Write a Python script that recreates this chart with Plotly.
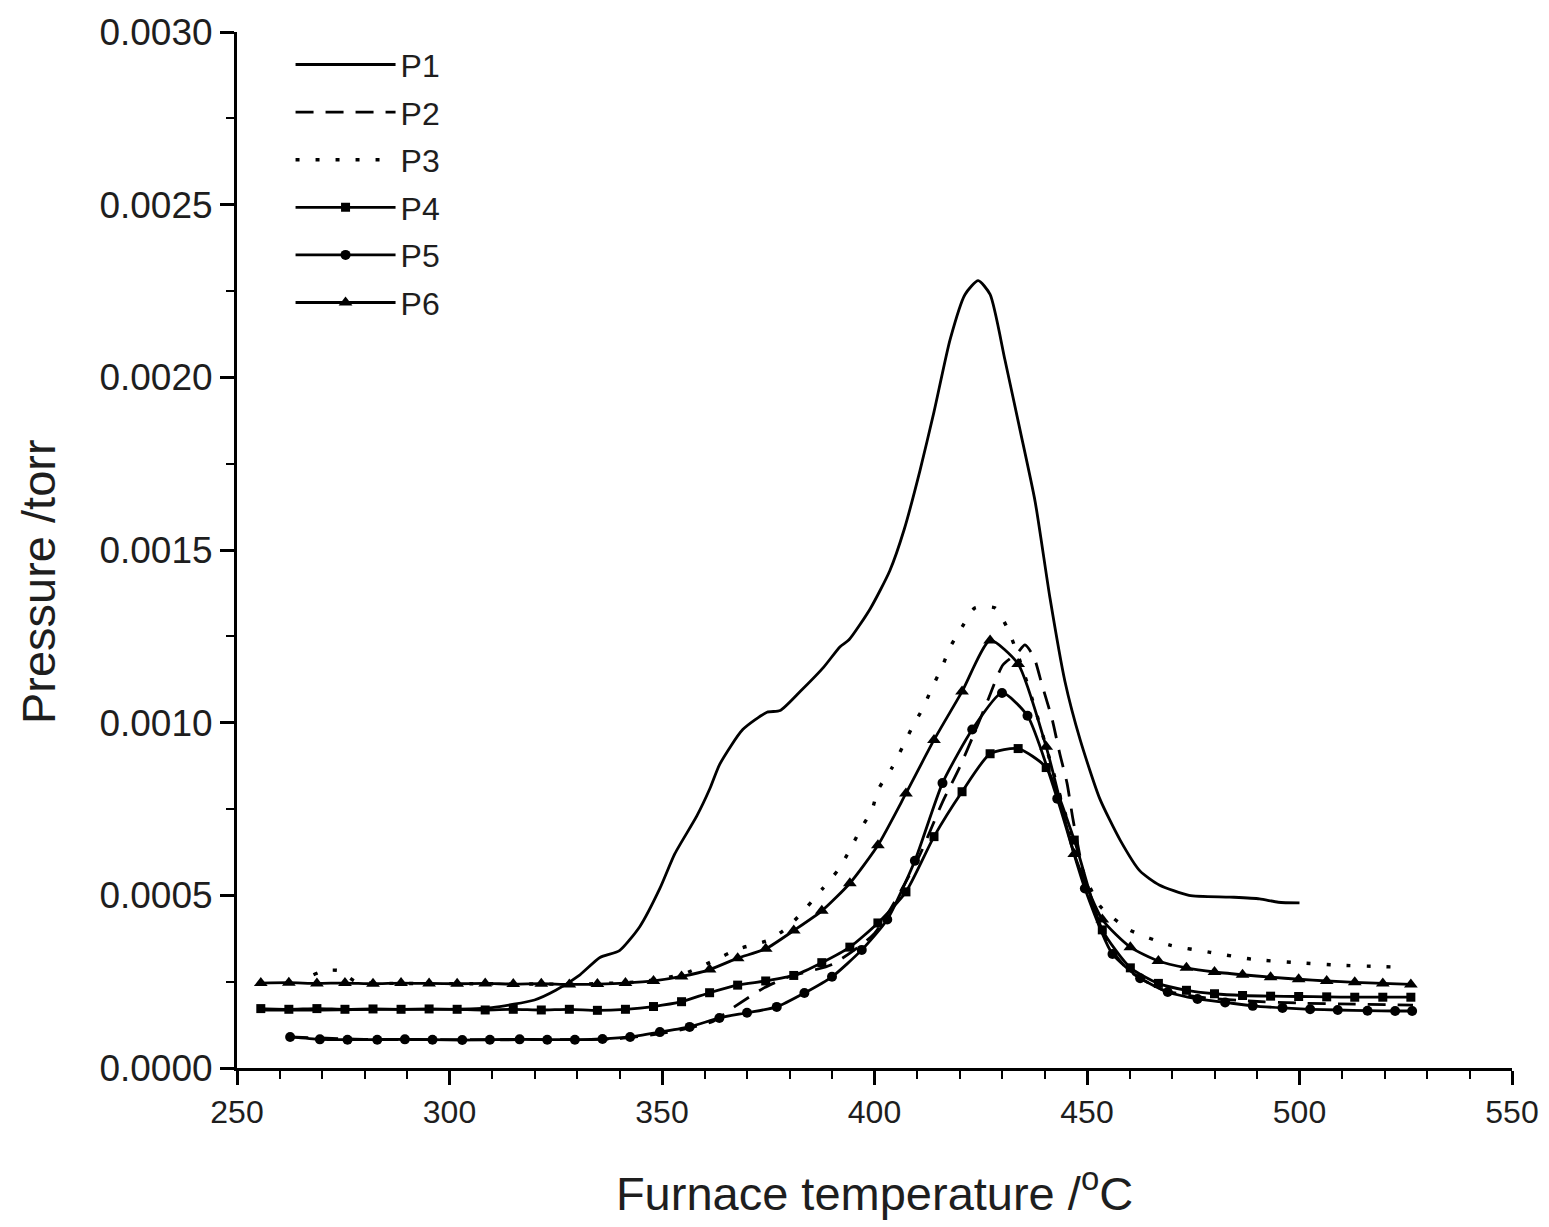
import plotly.graph_objects as go

# ---------------- data ----------------
p1_x = [255.5, 270, 285, 300, 310, 320, 325, 330.7, 335.4, 340, 344.8, 349.5, 353, 358.2, 361.3,
        363.6, 369, 374.7, 377.8, 382.5, 388, 391.9, 394, 399, 403.6, 407, 410.7, 414, 417.8,
        421.3, 424.4, 427.2, 430.7, 434.2, 437.8, 441.3, 444.8, 448.4, 453, 457.8, 462.5, 467,
        474, 483.6, 490.6, 495, 500]
p1_y = [0.000168, 0.000168, 0.000170, 0.000170, 0.000175, 0.000197, 0.000225, 0.000270, 0.000320,
        0.000340, 0.000410, 0.000520, 0.000620, 0.000730, 0.000810, 0.000880, 0.000980, 0.001030,
        0.001035, 0.001090, 0.001160, 0.001220, 0.001240, 0.001330, 0.001440, 0.001560, 0.001730,
        0.001900, 0.002110, 0.002240, 0.002280, 0.002240, 0.002050, 0.001850, 0.001640, 0.001360,
        0.001120, 0.000950, 0.000780, 0.000660, 0.000570, 0.000530, 0.000500, 0.000495, 0.000490,
        0.000480, 0.000478]

p2_x = [262.5, 280, 300, 320, 340, 350, 356, 362, 367, 374, 380, 390, 400, 410, 416, 420, 423.5,
        426.7, 430.2, 433.5, 435.4, 437.5, 439.4, 441.8, 443.6, 445.3, 446.7, 448.4, 450, 452.4,
        455.4, 460, 467.9, 476.6, 488, 500, 513, 526.7]
p2_y = [0.000090, 0.000083, 0.000082, 0.000082, 0.000085, 0.000100, 0.000115, 0.000135, 0.000177,
        0.000232, 0.000265, 0.000300, 0.000390, 0.000600, 0.000770, 0.000870, 0.000970, 0.001066,
        0.001167, 0.001200, 0.001225, 0.001190, 0.001110, 0.001010, 0.000910, 0.000825, 0.000720,
        0.000610, 0.000520, 0.000430, 0.000350, 0.000280, 0.000226, 0.000205, 0.000194, 0.000188,
        0.000185, 0.000182]

p3_x = [268, 270.5, 274, 278, 290, 310, 330, 345, 355, 362, 368, 375, 379.6, 384.1, 387.9, 391.4,
        394.2, 396.6, 399.4, 400.8, 404.1, 406.5, 408.8, 411.4, 413.5, 415.9, 417.8, 420.6, 423.6,
        428.4, 431.4, 434.2, 437.8, 441.3, 444.8, 448.4, 453, 460, 469.5, 479, 488.8, 499.4,
        508.8, 518.5, 523.2]
p3_y = [0.000270, 0.000282, 0.000282, 0.000250, 0.000245, 0.000244, 0.000243, 0.000250, 0.000272,
        0.000310, 0.000345, 0.000370, 0.000408, 0.000466, 0.000521, 0.000573, 0.000631, 0.000689,
        0.000747, 0.000805, 0.000869, 0.000927, 0.000985, 0.001042, 0.001100, 0.001161, 0.001219,
        0.001277, 0.001332, 0.001332, 0.001270, 0.001180, 0.001040, 0.000890, 0.000740, 0.000590,
        0.000470, 0.000400, 0.000356, 0.000335, 0.000315, 0.000305, 0.000298, 0.000294, 0.000292]

p4_x = [255.6, 262.2, 268.8, 275.4, 282.0, 288.6, 295.2, 301.8, 308.4, 315.0, 321.6, 328.2, 334.8,
        341.4, 348.0, 354.6, 361.2, 367.8, 374.4, 381.0, 387.6, 394.2, 400.8, 407.4, 414.0, 420.6,
        427.2, 433.8, 440.4, 447.0, 453.6, 460.2, 466.8, 473.4, 480.0, 486.6, 493.2, 499.8, 506.4,
        513.0, 519.6, 526.2]
p4_y = [0.000172, 0.000170, 0.000172, 0.000170, 0.000171, 0.000170, 0.000171, 0.000170, 0.000168,
        0.000170, 0.000168, 0.000170, 0.000167, 0.000170, 0.000178, 0.000192, 0.000218, 0.000240,
        0.000252, 0.000268, 0.000305, 0.000350, 0.000420, 0.000510, 0.000670, 0.000800, 0.000910,
        0.000925, 0.000870, 0.000660, 0.000400, 0.000290, 0.000245, 0.000225, 0.000215, 0.000210,
        0.000208, 0.000207, 0.000206, 0.000205, 0.000205, 0.000205]

p5_x = [262.5, 269.5, 276.0, 283.0, 289.5, 296.0, 303.0, 309.5, 316.5, 323.0, 329.5, 336.0, 342.5,
        349.5, 356.5, 363.5, 370.0, 377.0, 383.5, 390.0, 397.0, 403.0, 409.5, 416.0, 423.0, 430.0,
        436.0, 443.0, 449.5, 456.0, 462.5, 469.0, 476.0, 482.5, 489.0, 496.0, 502.5, 509.0, 516.0,
        522.5, 526.5]
p5_y = [0.000090, 0.000083, 0.000082, 0.000082, 0.000083, 0.000082, 0.000081, 0.000082, 0.000083,
        0.000082, 0.000082, 0.000084, 0.000090, 0.000104, 0.000119, 0.000145, 0.000160, 0.000177,
        0.000217, 0.000264, 0.000342, 0.000430, 0.000600, 0.000825, 0.000980, 0.001086, 0.001020,
        0.000780, 0.000520, 0.000330, 0.000260, 0.000220, 0.000200, 0.000190, 0.000180, 0.000174,
        0.000170, 0.000168, 0.000166, 0.000165, 0.000165]

p6_x = [255.6, 262.2, 268.8, 275.4, 282.0, 288.6, 295.2, 301.8, 308.4, 315.0, 321.6, 328.2, 334.8,
        341.4, 348.0, 354.6, 361.2, 367.8, 374.4, 381.0, 387.6, 394.2, 400.8, 407.4, 414.0, 420.6,
        427.2, 433.8, 440.4, 447.0, 453.6, 460.2, 466.8, 473.4, 480.0, 486.6, 493.2, 499.8, 506.4,
        513.0, 519.6, 526.2]
p6_y = [0.000246, 0.000247, 0.000245, 0.000246, 0.000244, 0.000246, 0.000245, 0.000244, 0.000245,
        0.000243, 0.000244, 0.000242, 0.000243, 0.000246, 0.000252, 0.000265, 0.000285, 0.000318,
        0.000345, 0.000398, 0.000455, 0.000535, 0.000645, 0.000795, 0.000950, 0.001090, 0.001238,
        0.001170, 0.000930, 0.000620, 0.000430, 0.000350, 0.000310, 0.000290, 0.000278, 0.000270,
        0.000263, 0.000257, 0.000252, 0.000248, 0.000245, 0.000242]

series_names = ["P1", "P2", "P3", "P4", "P5", "P6"]

x_ticks = [250, 300, 350, 400, 450, 500, 550]
y_ticks = [0.0, 0.0005, 0.0010, 0.0015, 0.0020, 0.0025, 0.0030]
y_tick_labels = ["0.0000", "0.0005", "0.0010", "0.0015", "0.0020", "0.0025", "0.0030"]

x_title = "Furnace temperature /<sup>o</sup>C"
y_title = "Pressure /torr"

# ---------------- figure ----------------
FONT = "Liberation Sans, Arial, sans-serif"
TXT = "#1e1e1e"
fig = go.Figure()

def add(x, y, name, dash="solid", symbol=None, msize=8, width=2.8):
    mode = "lines+markers" if symbol else "lines"
    fig.add_trace(go.Scatter(
        x=x, y=y, name=name, mode=mode, legendgroup=name,
        line=dict(color="black", width=width, dash=dash, shape="spline", smoothing=0.6),
        marker=dict(symbol=symbol or "circle", size=msize, color="black"),
    ))

add(p1_x, p1_y, series_names[0])
add(p2_x, p2_y, series_names[1], dash="18px,12px")
add(p3_x, p3_y, series_names[2], dash="4px,16px", width=3.4)
add(p4_x, p4_y, series_names[3], symbol="square", msize=9)
add(p5_x, p5_y, series_names[4], symbol="circle", msize=10)
add(p6_x, p6_y, series_names[5], symbol="triangle-up", msize=12)

axis_common = dict(
    showline=True, linecolor="black", linewidth=3, showgrid=False, zeroline=False,
    ticks="outside", tickcolor="black", tickwidth=2.5, ticklen=14,
    mirror=False, automargin=False,
)

fig.update_xaxes(
    range=[250, 550], tickvals=x_ticks,
    tickfont=dict(family=FONT, size=32, color=TXT),
    minor=dict(ticks="outside", dtick=10, tick0=250, ticklen=8, tickwidth=2, tickcolor="black"),
    title=dict(text=x_title, font=dict(family=FONT, size=47, color=TXT), standoff=48),
    **axis_common,
)
fig.update_yaxes(
    range=[0, 0.003], tickvals=y_ticks, ticktext=y_tick_labels,
    tickfont=dict(family=FONT, size=37, color=TXT),
    minor=dict(ticks="outside", dtick=0.00025, tick0=0, ticklen=8, tickwidth=2, tickcolor="black"),
    **axis_common,
)

fig.add_annotation(
    text=y_title, textangle=-90, xref="paper", yref="paper",
    x=0, y=0.469, xanchor="center", yanchor="middle", xshift=-199, showarrow=False,
    font=dict(family=FONT, size=47, color=TXT),
)

fig.update_layout(
    width=1549, height=1227,
    margin=dict(l=229, r=45, t=24, b=167, autoexpand=False),
    plot_bgcolor="white", paper_bgcolor="white",
    showlegend=True,
    legend=dict(
        x=0.042, y=0.995, xanchor="left", yanchor="top",
        font=dict(family=FONT, size=32, color=TXT),
        itemwidth=100, tracegroupgap=3, bgcolor="rgba(0,0,0,0)",
    ),
)

fig.write_html("out.html")
